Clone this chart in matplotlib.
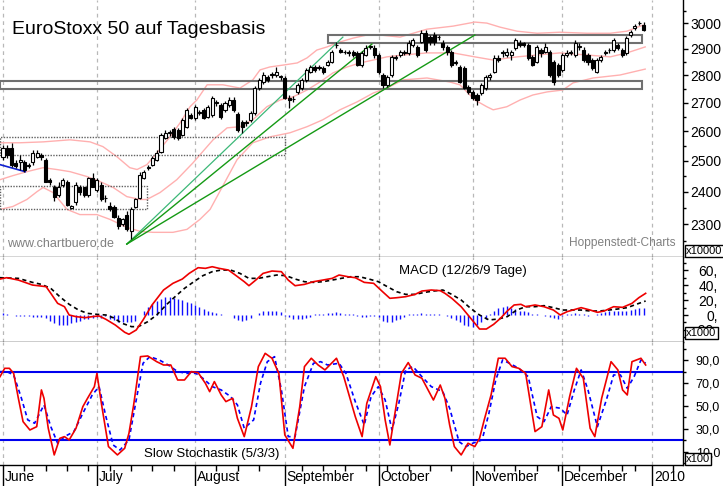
import numpy as np
import matplotlib.pyplot as plt
from matplotlib.patches import Rectangle
from matplotlib.ticker import FixedLocator, FixedFormatter, NullFormatter

plt.rcParams['font.family'] = ['Liberation Sans', 'DejaVu Sans']

# Tageskerzen EuroStoxx 50, Juni bis Dezember 2009
kurs_open = [2514, 2544, 2544, 2494, 2498, 2498, 2488, 2498, 2514, 2521,
             2504, 2439, 2417, 2391, 2423, 2430, 2348, 2367, 2417, 2414,
             2391, 2446, 2407, 2423, 2382, 2357, 2354, 2320, 2299, 2329,
             2278, 2351, 2382, 2446, 2478, 2488, 2504, 2531, 2578, 2595,
             2609, 2605, 2588, 2616, 2657, 2647, 2664, 2675, 2650, 2657,
             2700, 2693, 2675, 2693, 2710, 2661, 2633, 2630, 2640, 2664,
             2753, 2775, 2794, 2801, 2801, 2794, 2790, 2717, 2713, 2739,
             2753, 2783, 2812, 2831, 2827, 2827, 2838, 2850, 2914, 2895,
             2887, 2887, 2887, 2884, 2838, 2876, 2907, 2903, 2876, 2801,
             2765, 2801, 2865, 2876, 2887, 2884, 2914, 2907, 2926, 2960,
             2945, 2953, 2945, 2922, 2907, 2887, 2846, 2831, 2827, 2757,
             2739, 2728, 2735, 2753, 2794, 2812, 2865, 2884, 2876, 2876,
             2903, 2922, 2922, 2914, 2869, 2850, 2895, 2887, 2887, 2850,
             2838, 2820, 2876, 2884, 2876, 2907, 2895, 2876, 2857, 2812,
             2857, 2884, 2895, 2895, 2914, 2895, 2884, 2953, 2980, 3000,
             2992]
kurs_high = [2554, 2554, 2561, 2504, 2521, 2504, 2494, 2538, 2538, 2528,
             2511, 2446, 2423, 2430, 2446, 2439, 2360, 2430, 2423, 2417,
             2449, 2462, 2446, 2430, 2391, 2367, 2360, 2329, 2320, 2339,
             2351, 2382, 2465, 2472, 2488, 2518, 2538, 2595, 2605, 2605,
             2616, 2612, 2647, 2682, 2664, 2693, 2675, 2682, 2693, 2724,
             2710, 2700, 2707, 2721, 2721, 2668, 2640, 2640, 2671, 2761,
             2790, 2812, 2801, 2812, 2831, 2801, 2798, 2728, 2724, 2772,
             2790, 2827, 2838, 2838, 2838, 2835, 2857, 2895, 2926, 2903,
             2895, 2895, 2895, 2891, 2891, 2914, 2914, 2914, 2884, 2809,
             2801, 2876, 2876, 2895, 2895, 2933, 2941, 2914, 2972, 2972,
             2953, 2964, 2953, 2933, 2914, 2895, 2857, 2838, 2835, 2765,
             2746, 2735, 2772, 2801, 2809, 2876, 2876, 2895, 2903, 2895,
             2941, 2933, 2926, 2922, 2876, 2914, 2903, 2922, 2895, 2857,
             2846, 2884, 2895, 2895, 2933, 2922, 2907, 2884, 2865, 2865,
             2876, 2895, 2903, 2941, 2922, 2903, 2949, 2972, 2996, 3008,
             3004]
kurs_low = [2504, 2511, 2481, 2478, 2472, 2465, 2478, 2488, 2511, 2504,
            2430, 2423, 2370, 2385, 2417, 2357, 2345, 2360, 2391, 2385,
            2385, 2414, 2401, 2370, 2367, 2339, 2320, 2284, 2293, 2278,
            2254, 2348, 2376, 2442, 2472, 2484, 2501, 2528, 2574, 2585,
            2574, 2571, 2585, 2612, 2643, 2640, 2657, 2643, 2647, 2650,
            2689, 2643, 2668, 2686, 2668, 2598, 2595, 2619, 2633, 2657,
            2746, 2768, 2775, 2790, 2794, 2783, 2714, 2682, 2703, 2732,
            2746, 2775, 2809, 2812, 2820, 2805, 2835, 2846, 2903, 2884,
            2880, 2872, 2869, 2835, 2831, 2872, 2899, 2865, 2805, 2753,
            2757, 2794, 2857, 2869, 2876, 2876, 2907, 2869, 2922, 2887,
            2914, 2914, 2933, 2895, 2876, 2831, 2838, 2772, 2750, 2732,
            2710, 2693, 2728, 2746, 2783, 2809, 2850, 2869, 2869, 2857,
            2895, 2907, 2907, 2857, 2835, 2846, 2869, 2884, 2794, 2765,
            2794, 2812, 2869, 2876, 2869, 2895, 2850, 2838, 2820, 2809,
            2850, 2876, 2884, 2887, 2895, 2869, 2876, 2945, 2972, 2992,
            2968]
kurs_close = [2544, 2521, 2488, 2484, 2504, 2472, 2484, 2528, 2528, 2514,
              2433, 2430, 2385, 2417, 2439, 2360, 2357, 2423, 2401, 2391,
              2446, 2417, 2439, 2376, 2380, 2345, 2323, 2293, 2314, 2284,
              2345, 2376, 2455, 2465, 2481, 2511, 2528, 2588, 2595, 2597,
              2581, 2578, 2640, 2675, 2647, 2686, 2666, 2647, 2686, 2717,
              2702, 2650, 2700, 2710, 2675, 2605, 2616, 2632, 2664, 2753,
              2783, 2801, 2783, 2803, 2812, 2796, 2717, 2710, 2715, 2765,
              2783, 2820, 2831, 2820, 2829, 2812, 2850, 2887, 2916, 2887,
              2889, 2884, 2876, 2838, 2884, 2903, 2909, 2876, 2812, 2765,
              2794, 2869, 2867, 2887, 2884, 2922, 2933, 2876, 2960, 2895,
              2926, 2926, 2947, 2907, 2887, 2838, 2848, 2775, 2753, 2739,
              2717, 2710, 2765, 2794, 2801, 2865, 2857, 2886, 2887, 2887,
              2933, 2914, 2914, 2865, 2838, 2907, 2884, 2907, 2801, 2775,
              2801, 2876, 2884, 2886, 2922, 2909, 2857, 2850, 2827, 2857,
              2869, 2887, 2897, 2933, 2903, 2876, 2941, 2964, 2988, 3002,
              2972]

# Bollinger-Baender (Tag, Kurs)
bb_oben_tag = [-0.7, 4.0, 9.4, 15.7, 20.4, 23.4, 26.7, 29.7, 31.4, 33.7, 36.1, 39.1,
               41.5, 43.8, 45.4, 47.8, 51.5, 55.5, 58.5, 60.2, 62.5, 65.6, 68.9, 71.2,
               73.5, 75.9, 78.9, 82.0, 85.2, 88.3, 93.0, 99.3, 105.4, 110.5, 113.3,
               116.4, 120.4, 125.1, 130.4, 136.8, 142.2, 146.1, 149.9]
bb_oben = [2561, 2561, 2564, 2571, 2564, 2548, 2514, 2478, 2472, 2488, 2528, 2581,
           2630, 2686, 2710, 2765, 2765, 2753, 2783, 2820, 2831, 2838, 2846, 2865,
           2895, 2907, 2926, 2941, 2953, 2953, 2945, 2976, 2988, 3004, 3000,
           2984, 2968, 2960, 2964, 2960, 2960, 2968, 2992]
bb_mitte_tag = [-0.7, 2.3, 5.6, 9.4, 12.6, 15.7, 19.7, 22.7, 25.8, 29.0, 32.1, 33.7,
                36.8, 40.7, 44.5, 47.8, 49.2, 52.5, 55.5, 58.5, 61.8, 64.9, 67.9, 71.2,
                74.2, 77.3, 80.6, 83.6, 86.7, 89.9, 93.7, 99.3, 105.4, 110.5, 114.8,
                120.4, 125.1, 130.4, 136.8, 142.2, 146.1, 150.4]
bb_mitte = [2439, 2452, 2465, 2478, 2472, 2465, 2449, 2433, 2414, 2385, 2376, 2376,
            2398, 2439, 2494, 2548, 2571, 2612, 2616, 2640, 2686, 2710, 2721, 2746,
            2775, 2809, 2831, 2846, 2857, 2869, 2876, 2884, 2884, 2869, 2857,
            2869, 2876, 2884, 2876, 2869, 2884, 2907]
bb_unten_tag = [-0.7, 2.3, 5.6, 8.0, 9.4, 11.7, 15.0, 18.0, 22.0, 25.1, 29.0, 32.1,
                35.1, 39.8, 43.1, 46.1, 48.5, 54.8, 58.5, 62.5, 67.2, 71.2, 74.9, 78.9,
                82.9, 86.7, 89.9, 93.7, 99.3, 104.7, 107.0, 110.5, 113.3, 114.8, 118.0,
                121.1, 124.1, 127.4, 131.1, 133.5, 138.2, 144.5, 150.4]
bb_unten = [2345, 2354, 2376, 2401, 2414, 2398, 2345, 2329, 2329, 2314, 2290, 2278,
            2275, 2275, 2284, 2314, 2345, 2504, 2561, 2581, 2595, 2616, 2640, 2675,
            2703, 2735, 2753, 2783, 2790, 2775, 2765, 2710, 2686, 2675, 2686,
            2710, 2728, 2739, 2746, 2772, 2790, 2801, 2823]

# Unterstuetzungs-/Widerstandszonen: (Start, Ende, unten, oben)
zonen_gepunktet = [(-0.7, 66.0, 2521, 2581), (-0.7, 33.7, 2345, 2420)]
zonen_linie = [(-0.7, 149.6, 2750, 2779), (76.1, 149.6, 2922, 2953)]

# Trendlinien (Tag, Kurs)
trend_hell = ([29.0, 79.6], [2240, 2945])
trend_1 = ([29.0, 86.4], [2240, 2918])
trend_2 = ([29.0, 110.5], [2240, 2953])
trend_blau = ([-0.7, 5.2], [2488, 2465])

# MACD (12/26/9)
macd_tag = [-0.7, 0.9, 3.6, 6.9, 10.1, 11.2, 12.8, 14.4, 15.5, 17.1, 19.3, 20.9, 22.5,
            24.1, 26.3, 28.5, 29.5, 31.2, 32.8, 34.9, 37.6, 39.8, 42.0, 43.6, 45.7,
            47.4, 49.0, 50.6, 52.8, 54.4, 56.5, 57.6, 59.2, 60.9, 63.0, 65.2, 66.8,
            68.4, 70.6, 72.7, 74.9, 77.1, 78.7, 80.8, 82.5, 84.6, 86.8, 88.9, 90.6,
            92.2, 94.3, 96.5, 98.1, 100.3, 102.4, 103.5, 105.1, 107.3, 108.9, 110.5,
            111.6, 113.2, 114.9, 116.5, 118.1, 119.7, 121.3, 122.4, 124.6, 126.7,
            128.9, 130.5, 132.1, 135.4, 137.5, 139.2, 140.8, 143.0, 145.1, 147.3,
            148.9, 150.5]
macd_wert = [48.5, 50.3, 47.1, 40.4, 38.2, 29.2, 15.7, 11.2, 0.0, -2.2, -3.6, -2.2, -1.3,
             -5.8, -13.5, -23.3, -26.0, -20.2, -6.7, 13.5, 33.7, 42.7, 48.5, 56.1, 63.8,
             62.9, 65.1, 62.9, 60.6, 53.9, 44.9, 39.5, 47.1, 56.1, 59.3, 58.4, 47.1,
             39.5, 41.3, 44.9, 47.1, 49.4, 53.9, 51.6, 50.3, 44.0, 42.7, 31.4, 22.5,
             23.3, 24.7, 27.8, 32.3, 33.7, 32.8, 29.2, 22.5, 11.2, 0.0, -11.2,
             -18.9, -18.9, -12.6, -4.5, 5.4, 13.5, 14.4, 11.2, 13.5, 11.2,
             6.7, 0.0, 4.5, 9.9, 6.7, 3.6, 5.4, 11.2, 10.3, 15.7,
             23.3, 29.2]
signal_tag = [-0.7, 3.6, 6.9, 9.0, 11.2, 13.3, 15.5, 17.7, 19.8, 22.0, 24.1, 25.8, 27.9,
              30.1, 31.7, 33.9, 36.0, 38.2, 40.3, 42.5, 44.7, 46.8, 49.0, 51.1, 53.3,
              55.5, 57.6, 59.8, 61.9, 64.1, 66.3, 68.4, 70.6, 72.7, 74.9, 77.1, 79.2,
              81.4, 83.5, 85.7, 87.9, 90.0, 92.2, 94.3, 96.5, 98.7, 100.8, 103.0, 105.1,
              107.3, 109.5, 111.6, 113.8, 116.0, 118.1, 120.3, 122.4, 124.6, 126.7,
              128.9, 131.1, 133.2, 135.4, 137.5, 139.7, 141.9, 144.0, 146.2, 148.3,
              150.5]
signal_wert = [50.3, 49.4, 44.0, 41.3, 35.9, 24.7, 14.4, 6.7, 2.2, 0.9, 0.0, -3.6, -11.2,
               -15.7, -15.7, -9.0, 0.0, 13.5, 24.7, 35.9, 44.9, 53.0, 58.4, 60.6, 60.6,
               56.1, 49.4, 49.4, 51.6, 53.9, 53.0, 48.5, 44.9, 44.0, 44.9, 47.1, 49.4,
               51.6, 51.6, 48.5, 44.9, 38.2, 31.4, 27.8, 27.8, 30.5, 32.3, 33.7, 27.8,
               20.2, 9.0, 0.0, -6.7, -5.4, -2.2, 6.7, 11.2, 11.2, 12.6,
               9.9, 6.7, 6.7, 6.7, 5.4, 5.4, 6.7, 8.1, 9.9, 14.4,
               18.9]
macd_hist = [3, 2, 0, -1, -2, -2, -2, -3, -3, -3,
             -4, -8, -11, -13, -14, -13, -11, -10, -8, -6,
             -5, -4, -3, -4, -2, -5, -7, -9, -10, -10,
             -9, -8, 0, 6, 11, 15, 19, 21, 24, 24,
             23, 22, 20, 18, 16, 13, 11, 8, 6, 4,
             3, 1, 0, 0, -4, -7, -8, -7, -4, 0,
             3, 5, 6, 6, 5, 4, -1, -3, -5, -6,
             -5, -4, -3, 1, 2, 2, 3, 3, 4, 3,
             2, 2, 1, -2, -3, -3, -2, -1, -3, -8,
             -10, -9, -7, -5, -3, 1, 2, 2, 3, 2,
             2, 1, 1, 0, -1, -4, -7, -10, -13, -15,
             -16, -14, -10, -6, 2, 6, 9, 11, 12, 10,
             8, 6, 5, 4, 2, 2, 0, -2, -3, -4,
             -5, -2, 1, 2, 3, 2, 1, -1, 0, 2,
             3, 4, 5, 6, 5, 5, 6, 7, 8, 9,
             9]

# Slow Stochastik (5/3/3)
stoch_k_tag = [-0.7, 0.4, 1.5, 2.5, 3.6, 4.7, 6.3, 7.9, 9.0, 9.6, 10.6, 12.0, 13.3, 14.4,
               15.5, 17.1, 18.7, 19.8, 21.4, 22.0, 23.1, 24.7, 26.8, 28.5, 29.5, 30.6,
               32.2, 33.9, 36.0, 37.6, 39.3, 40.9, 42.5, 44.1, 45.7, 47.4, 48.4, 49.5,
               51.1, 52.2, 53.8, 54.9, 56.5, 58.2, 59.8, 61.4, 63.0, 64.6, 66.0, 67.9,
               69.5, 70.6, 72.2, 73.8, 75.4, 78.1, 79.8, 82.5, 84.1, 85.2, 87.3, 88.4,
               89.5, 90.6, 91.6, 93.3, 94.9, 96.5, 98.1, 100.8, 102.4, 103.5, 104.6,
               105.7, 107.3, 108.9, 110.5, 111.6, 112.7, 114.3, 116.0, 117.6, 119.2,
               120.8, 122.4, 124.6, 126.2, 127.8, 128.9, 130.2, 131.1, 132.7, 134.3,
               135.9, 137.5, 138.6, 140.2, 142.4, 144.0, 145.1, 146.2, 147.3, 149.4,
               150.5]
stoch_k = [75.6, 82.9, 82.9, 78.5, 56.7, 36.3, 29.0, 31.9, 64.0, 56.7, 30.5, 7.2, 21.7, 23.2,
           20.3, 30.5, 49.4, 56.7, 66.9, 78.5, 50.9, 14.5, 7.2, 13.0, 26.1, 50.9,
           93.1, 93.7, 88.7, 85.8, 85.8, 72.7, 72.7, 80.0, 79.1, 69.8, 62.5, 71.3,
           59.6, 53.8, 56.7, 39.2, 23.2, 49.4, 84.4, 96.0, 91.7, 78.5, 24.7, 13.0,
           49.4, 84.4, 91.7, 85.8, 81.5, 91.7, 75.6, 40.7, 23.2, 52.3, 75.6, 66.9,
           37.8, 15.9, 39.2, 78.5, 87.9, 77.1, 74.2, 55.2, 68.3, 56.7, 33.4,
           14.5, 7.2, 17.4, 14.5, 21.7, 37.8, 59.6, 91.7, 91.7, 84.4,
           82.9, 78.5, 27.6, 31.9, 64.0, 42.1, 39.2, 29.0, 58.2, 82.9,
           74.2, 30.5, 23.2, 56.7, 88.7, 81.5, 64.0, 59.6, 88.7, 91.7,
           85.8]
stoch_d_tag = [-0.7, 0.9, 2.5, 4.2, 5.8, 7.4, 9.6, 11.2, 12.8, 14.4, 16.6, 18.7, 20.9,
               22.5, 24.1, 25.8, 27.4, 29.5, 31.2, 32.8, 34.4, 36.6, 38.7, 40.9, 43.0,
               45.2, 46.8, 49.0, 51.1, 53.3, 54.9, 56.5, 58.7, 60.3, 61.9, 63.6, 65.2,
               66.8, 68.4, 70.6, 72.7, 74.4, 76.0, 78.7, 80.3, 82.5, 84.6, 86.2, 87.9,
               89.5, 91.1, 92.7, 94.3, 96.0, 98.1, 100.3, 103.0, 104.6, 106.8, 108.4,
               110.0, 112.2, 113.8, 115.4, 117.0, 118.6, 120.8, 123.0, 125.1, 126.7,
               128.4, 130.5, 132.1, 133.8, 135.4, 137.0, 139.2, 141.3, 143.0, 144.6,
               146.2, 147.8, 149.4, 150.5]
stoch_d = [80.0, 80.0, 77.1, 58.2, 37.8, 34.9, 50.9, 31.9, 17.4, 23.2, 27.6, 43.6, 59.6,
           66.9, 40.7, 15.9, 11.5, 20.3, 55.2, 87.3, 93.1, 90.2, 85.8, 80.0, 78.5,
           78.5, 74.2, 66.9, 64.0, 58.2, 50.9, 30.5, 37.8, 69.8, 88.7, 93.1, 64.0,
           23.2, 23.2, 66.9, 87.3, 88.7, 85.8, 87.3, 78.5, 53.8, 33.4, 58.2, 66.9,
           55.2, 29.0, 52.3, 81.5, 84.4, 75.6, 66.9, 62.5, 48.0, 18.8, 14.5,
           17.4, 20.3, 43.6, 72.7, 90.2, 87.3, 82.9, 75.6, 40.7, 36.3,
           49.4, 48.0, 42.1, 64.0, 81.5, 64.0, 31.9, 55.2, 77.1, 77.1,
           65.4, 75.6, 90.2, 87.3]

# Achsen
monat_tage = [0, 22, 45, 66, 88, 110, 131, 152]
monat_namen = ['June', 'July', 'August', 'September', 'October', 'November', 'December', '2010']
wochen_tage = [5, 10, 15, 20, 25, 30, 35, 40, 50, 55, 60, 70, 75, 80, 85, 90, 95, 100, 105,
               115, 120, 125, 130, 135, 140, 145, 148, 157]
preis_ticks = [2300, 2400, 2500, 2600, 2700, 2800, 2900, 3000]
preis_minor = [2250, 2350, 2450, 2550, 2650, 2750, 2850, 2950, 3050]
macd_ticks = [-20, 0, 20, 40, 60]
macd_labels = ['-20,', '0,', '20,', '40,', '60,']
stoch_ticks = [10, 30, 50, 70, 90]
stoch_labels = ['10,0', '30,0', '50,0', '70,0', '90,0']
stoch_grenzen = [80, 20]

W, H = 723, 486
fig = plt.figure(figsize=(W / 100, H / 100), dpi=100)
breite = 683 / W

ax1 = fig.add_axes([0, 1 - 257 / H, breite, 257 / H])
ax2 = fig.add_axes([0, 1 - 342 / H, breite, 85 / H])
ax3 = fig.add_axes([0, 1 - 465 / H, breite, 123 / H])

for ax in (ax1, ax2, ax3):
    ax.set_xlim(-0.7, 159.25)
    for s in ('left', 'top'):
        ax.spines[s].set_visible(False)
    ax.spines['right'].set_linewidth(1.0)
    ax.spines['bottom'].set_linewidth(1.0)
    for m in monat_tage:
        ax.axvline(m, color='#b8b8b8', ls=(0, (3, 3)), lw=0.9, zorder=0)
    ax.yaxis.tick_right()

# --- Kurschart ---
ax1.set_yscale('log')
ax1.set_ylim(2202, 3093)

x = np.arange(len(kurs_close))
o = np.array(kurs_open, float)
hi = np.array(kurs_high, float)
lo = np.array(kurs_low, float)
c = np.array(kurs_close, float)
steigt = c >= o

ax1.plot(bb_oben_tag, bb_oben, color='#ffb0b0', lw=1.0, zorder=1)
ax1.plot(bb_mitte_tag, bb_mitte, color='#ffb0b0', lw=1.0, zorder=1)
ax1.plot(bb_unten_tag, bb_unten, color='#ffb0b0', lw=1.0, zorder=1)

for x0, x1, y0, y1 in zonen_gepunktet:
    ax1.add_patch(Rectangle((x0, y0), x1 - x0, y1 - y0, fill=False,
                            ec='#606060', lw=1.0, ls=(0, (1, 1)), zorder=2))
for x0, x1, y0, y1 in zonen_linie:
    ax1.add_patch(Rectangle((x0, y0), x1 - x0, y1 - y0, fill=False,
                            ec='#707070', lw=1.5, zorder=2))

ax1.plot(*trend_hell, color='#3cb878', lw=0.9, zorder=3)
ax1.plot(*trend_1, color='#159a15', lw=1.0, zorder=3)
ax1.plot(*trend_2, color='#159a15', lw=1.0, zorder=3)
ax1.plot(*trend_blau, color='#1020d0', lw=1.2, zorder=3)

ax1.vlines(x, lo, hi, color='black', lw=0.9, zorder=4)
ax1.bar(x[steigt], (c - o)[steigt], bottom=o[steigt], width=0.72,
        color='white', edgecolor='black', lw=0.8, zorder=5)
ax1.bar(x[~steigt], (o - c)[~steigt], bottom=c[~steigt], width=0.72,
        color='black', edgecolor='black', lw=0.8, zorder=5)

ax1.yaxis.set_major_locator(FixedLocator(preis_ticks))
ax1.yaxis.set_major_formatter(FixedFormatter([str(p) for p in preis_ticks]))
ax1.yaxis.set_minor_locator(FixedLocator(preis_minor))
ax1.yaxis.set_minor_formatter(NullFormatter())
ax1.tick_params(axis='y', which='major', direction='out', length=3.6, width=1,
                pad=1.5, labelsize=10)
ax1.tick_params(axis='y', which='minor', direction='out', length=2.2, width=1)
ax1.set_xticks([])
ax1.spines['bottom'].set_color('#303030')

# --- MACD ---
ax2.set_ylim(-36.4, 78.2)
ax2.vlines(x, 0, macd_hist, color='#1010ff', lw=1.0, zorder=2)
ax2.plot(signal_tag, signal_wert, color='black', lw=1.2, ls=(0, (2.5, 2)), zorder=3)
ax2.plot(macd_tag, macd_wert, color='#ee0000', lw=1.2, zorder=4)
ax2.yaxis.set_major_locator(FixedLocator(macd_ticks))
ax2.yaxis.set_major_formatter(FixedFormatter(macd_labels))
ax2.yaxis.set_minor_locator(FixedLocator([-30, -10, 10, 30, 50, 70]))
ax2.tick_params(axis='y', which='major', direction='out', length=3.6, width=1,
                pad=21.5, labelsize=10)
ax2.tick_params(axis='y', which='minor', direction='out', length=2.2, width=1)
for lbl in ax2.get_yticklabels():
    lbl.set_horizontalalignment('right')
ax2.set_xticks([])

# --- Stochastik ---
ax3.set_ylim(-1.6, 105.9)
for g in stoch_grenzen:
    ax3.axhline(g, color='#0000ee', lw=1.5, zorder=2)
ax3.plot(stoch_d_tag, stoch_d, color='#0000ff', lw=1.2, ls=(0, (2.5, 2)), zorder=3)
ax3.plot(stoch_k_tag, stoch_k, color='#ee0000', lw=1.2, zorder=4)
ax3.yaxis.set_major_locator(FixedLocator(stoch_ticks))
ax3.yaxis.set_major_formatter(FixedFormatter(stoch_labels))
ax3.yaxis.set_minor_locator(FixedLocator([0, 20, 40, 60, 80, 100]))
ax3.tick_params(axis='y', which='major', direction='out', length=3.6, width=1,
                pad=5.5, labelsize=9)
ax3.tick_params(axis='y', which='minor', direction='out', length=2.2, width=1)

ax3.xaxis.set_major_locator(FixedLocator(monat_tage))
ax3.xaxis.set_major_formatter(NullFormatter())
ax3.xaxis.set_minor_locator(FixedLocator(wochen_tage))
ax3.tick_params(axis='x', which='major', direction='out', length=15.5, width=1)
ax3.tick_params(axis='x', which='minor', direction='out', length=4.5, width=1)
for m, name in zip(monat_tage, monat_namen):
    ax3.annotate(name, xy=(m, 0), xycoords=('data', 'axes fraction'),
                 xytext=(2, -12), textcoords='offset pixels',
                 ha='left', va='center', fontsize=10, annotation_clip=False)

# --- Beschriftungen ---
fig.text(12 / W, 1 - 34 / H, 'EuroStoxx 50 auf Tagesbasis', fontsize=14,
         va='baseline', ha='left')
fig.text(7 / W, 1 - 247 / H, 'www.chartbuero.de', fontsize=9, color='#808080',
         va='baseline', ha='left')
fig.text(675 / W, 1 - 246 / H, 'Hoppenstedt-Charts', fontsize=8.6, color='#808080',
         va='baseline', ha='right')
fig.text(399 / W, 1 - 271 / H, 'MACD (12/26/9 Tage)', fontsize=9.5,
         va='center', ha='left')
fig.text(144 / W, 1 - 454 / H, 'Slow Stochastik (5/3/3)', fontsize=9.5,
         va='center', ha='left')

box = dict(boxstyle='square,pad=0.12', fc='white', ec='black', lw=1)
fig.text(686 / W, 1 - 251 / H, 'x10000', fontsize=8, va='center', ha='left', bbox=box)
fig.text(686 / W, 1 - 333 / H, 'x1000', fontsize=8, va='center', ha='left', bbox=box)
fig.text(686 / W, 1 - 459 / H, 'x100', fontsize=8, va='center', ha='left', bbox=box)

fig.savefig('out.png', dpi=100)
